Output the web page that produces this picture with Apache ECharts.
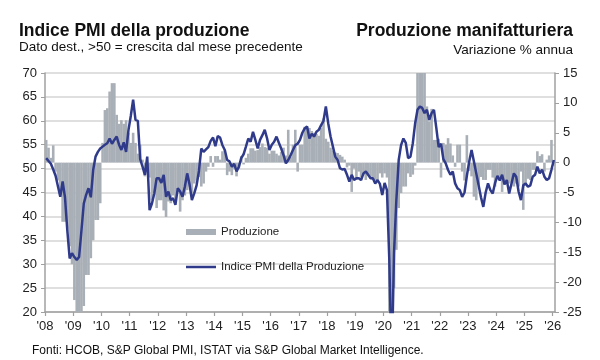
<!DOCTYPE html>
<html>
<head>
<meta charset="utf-8">
<script src="https://cdn.jsdelivr.net/npm/echarts@6/dist/echarts.min.js"></script>
<style>
html,body{margin:0;padding:0;background:#fff;}
#chart{width:600px;height:360px;}
</style>
</head>
<body>
<div id="chart"></div>
<script>
// Year tick labels (one per January, 2008 .. 2026)
const yearTicks = ["'08","'09","'10","'11","'12","'13","'14","'15","'16","'17","'18","'19","'20","'21","'22","'23","'24","'25","'26"];

// PMI output index (left axis), monthly Jan 2008 .. Jan 2026
const pmi2008 = [52.2,51.6,51.0,49.8,48.5,46.3,44.1,47.3,44.0,37.0,31.2,32.3];
const pmi2009 = [31.5,30.9,31.5,37.0,42.7,44.5,45.9,44.0,49.7,52.5,53.5,54.2];
const pmi2010 = [54.6,55.0,55.3,56.3,55.2,56.0,56.7,55.0,53.9,55.5,53.5,58.0];
const pmi2011 = [61.0,64.4,60.2,60.0,52.0,50.4,48.7,52.5,41.3,42.7,44.8,48.0];
const pmi2012 = [48.0,47.0,48.7,44.1,45.2,43.4,43.8,42.4,45.9,45.2,44.1,46.2];
const pmi2013 = [49.0,46.7,43.4,44.8,46.5,49.5,54.2,53.5,54.0,54.5,55.8,56.5];
const pmi2014 = [54.7,56.8,56.5,54.9,53.9,51.8,51.5,50.4,51.0,49.4,50.4,52.2];
const pmi2015 = [53.0,54.6,56.3,55.6,57.7,56.0,54.2,56.0,57.0,58.1,56.3,53.9];
const pmi2016 = [55.0,55.6,56.7,55.4,54.2,52.8,51.1,51.8,52.8,53.9,54.9,55.2];
const pmi2017 = [56.0,57.5,58.4,58.8,56.3,57.3,56.7,57.7,58.1,59.1,60.0,63.0];
const pmi2018 = [59.5,56.7,54.6,52.5,51.8,50.1,49.8,49.9,48.7,47.3,48.7,47.6];
const pmi2019 = [48.0,48.0,47.6,49.0,49.4,48.7,48.0,48.0,46.9,47.6,46.8,44.5];
const pmi2020 = [47.0,45.5,30.9,8.0,32.3,43.4,51.8,54.9,56.3,55.4,52.2,52.5];
const pmi2021 = [55.3,59.5,62.3,63.0,62.7,61.6,62.3,60.2,61.6,62.3,58.5,54.5];
const pmi2022 = [55.2,52.0,51.1,49.7,48.7,49.4,46.9,45.9,45.5,44.1,45.0,48.5];
const pmi2023 = [51.5,53.9,51.5,49.0,46.5,44.0,42.0,45.0,46.9,45.5,44.8,47.0];
const pmi2024 = [48.5,47.5,48.7,46.7,47.6,44.8,46.9,49.0,48.3,45.2,43.4,46.5];
const pmi2025 = [46.9,46.2,46.5,48.3,48.7,50.4,49.0,49.8,48.3,47.6,48.0,49.8];
const pmi2026 = [51.8];

// Manufacturing production, % y/y (right axis), monthly Jan 2008 .. Jan 2026
const prod2008 = [3.8,2.5,0.8,2.9,-1.5,-3.0,-5.0,-9.9,-9.9,-11.0,-14.0,-17.0];
const prod2009 = [-23.0,-25.5,-26.0,-25.5,-24.0,-18.8,-18.8,-16.0,-13.0,-9.6,-9.6,-6.8];
const prod2010 = [3.3,8.8,9.1,11.9,13.3,13.3,8.0,6.5,7.1,6.5,7.1,5.0];
const prod2011 = [3.3,5.0,3.3,1.5,3.0,0.5,-2.3,-1.0,-2.5,-6.3,-5.0,-7.6];
const prod2012 = [-6.3,-6.3,-8.0,-9.1,-6.5,-6.8,-5.5,-6.0,-4.6,-8.2,-6.3,-5.5];
const prod2013 = [-4.6,-4.0,-5.5,-3.5,-3.0,-2.4,-4.0,-3.5,-1.5,-0.7,1.1,-0.7];
const prod2014 = [1.1,1.1,0.5,1.9,2.1,-2.1,-1.5,-2.1,-1.0,-2.3,-1.0,1.1];
const prod2015 = [-0.3,0.8,1.5,2.4,2.4,2.0,2.1,2.6,3.2,2.6,2.5,1.5];
const prod2016 = [2.0,2.0,1.5,1.2,1.8,2.5,1.2,5.5,1.0,3.0,5.5,-1.5];
const prod2017 = [3.0,3.0,6.0,6.0,5.8,5.3,5.0,4.8,4.5,5.8,7.4,4.0];
const prod2018 = [3.5,2.5,2.0,1.7,1.6,1.3,1.0,0.5,-0.8,-0.5,-4.9,-1.0];
const prod2019 = [-2.9,-1.5,-2.5,-2.1,-2.9,-2.1,-2.4,-2.9,-3.0,-2.9,-1.8,-2.5];
const prod2020 = [-1.8,-2.5,-28.0,-42.0,-21.0,-14.6,-7.6,-5.1,-4.0,-4.0,-1.8,-2.4];
const prod2021 = [-2.0,-0.5,37.0,79.0,21.0,16.0,9.4,6.9,9.0,3.8,3.8,4.0];
const prod2022 = [-2.5,3.3,3.0,4.1,3.2,1.2,-0.7,3.0,3.0,-1.5,-3.0,4.6];
const prod2023 = [-1.4,-2.3,-5.7,-6.3,-3.7,-2.4,-2.9,-2.9,-1.2,-1.2,-2.5,-4.0];
const prod2024 = [-2.4,-2.4,-4.9,-3.5,-3.3,-3.5,-3.3,-4.0,-3.5,-4.0,-1.5,-7.9];
const prod2025 = [-3.5,-2.7,-2.9,-1.2,-1.2,1.9,1.1,1.4,-1.5,0.5,1.2,3.8];
const prod2026 = [-0.5];

const pmiValues = [].concat(pmi2008,pmi2009,pmi2010,pmi2011,pmi2012,pmi2013,pmi2014,pmi2015,pmi2016,pmi2017,pmi2018,pmi2019,pmi2020,pmi2021,pmi2022,pmi2023,pmi2024,pmi2025,pmi2026);
const prodValues = [].concat(prod2008,prod2009,prod2010,prod2011,prod2012,prod2013,prod2014,prod2015,prod2016,prod2017,prod2018,prod2019,prod2020,prod2021,prod2022,prod2023,prod2024,prod2025,prod2026);

// month index -> centre of that month's slot on the x value axis
const lineData = pmiValues.map((v, i) => [i + 0.5, v]);
const barData = prodValues.map((v, i) => [i + 0.5, v]);
const nMonths = pmiValues.length;

const FONT = 'Liberation Sans, Arial, sans-serif';
const AXIS_GREY = '#a0a0a0';

const chart = echarts.init(document.getElementById('chart'), null, {renderer: 'canvas'});
chart.setOption({
  animation: false,
  backgroundColor: '#ffffff',
  textStyle: {fontFamily: FONT},
  title: [
    {
      text: 'Indice PMI della produzione',
      subtext: 'Dato dest., >50 = crescita dal mese precedente',
      left: 19, top: 22, padding: 0, itemGap: 0,
      textStyle: {fontFamily: FONT, fontSize: 17.5, fontWeight: 'bold', color: '#111'},
      subtextStyle: {fontFamily: FONT, fontSize: 13.5, color: '#111'}
    },
    {
      text: 'Produzione manifatturiera',
      subtext: 'Variazione % annua',
      left: 573, top: 22, padding: 0, itemGap: 3, textAlign: 'right',
      textStyle: {fontFamily: FONT, fontSize: 17.5, fontWeight: 'bold', color: '#111'},
      subtextStyle: {fontFamily: FONT, fontSize: 13.5, color: '#111'}
    },
    {
      text: 'Fonti: HCOB, S&P Global PMI, ISTAT via S&P Global Market Intelligence.',
      left: 32, top: 345, padding: 0,
      textStyle: {fontFamily: FONT, fontSize: 12, fontWeight: 'normal', color: '#111'}
    }
  ],
  legend: [
    {
      data: [{name: 'Produzione', icon: 'rect'}],
      left: 186, top: 226, padding: 0,
      itemWidth: 30, itemHeight: 6,
      textStyle: {fontFamily: FONT, fontSize: 11.5, color: '#222'}
    },
    {
      data: [{name: 'Indice PMI della Produzione', icon: 'rect'}],
      left: 186, top: 261, padding: 0,
      itemWidth: 30, itemHeight: 2.5,
      textStyle: {fontFamily: FONT, fontSize: 11.5, color: '#222'}
    }
  ],
  grid: {left: 45, right: 45, top: 73, bottom: 48},
  xAxis: {
    type: 'value', min: 0, max: nMonths, interval: 12,
    axisLine: {onZero: false, lineStyle: {color: AXIS_GREY, width: 1.5}},
    axisTick: {show: true, length: 4, lineStyle: {color: AXIS_GREY, width: 1.2}},
    axisLabel: {
      fontFamily: FONT, fontSize: 13, color: '#222', margin: 8,
      showMaxLabel: false,
      formatter: function (v) { return (v % 12 === 0) ? (yearTicks[v / 12] || '') : ''; }
    },
    splitLine: {show: false}
  },
  yAxis: [
    {
      type: 'value', min: 20, max: 70, interval: 5, position: 'left',
      axisLine: {show: true, lineStyle: {color: AXIS_GREY, width: 1.5}},
      axisTick: {show: true, length: 4, lineStyle: {color: AXIS_GREY}},
      axisLabel: {fontFamily: FONT, fontSize: 13, color: '#222', margin: 8},
      splitLine: {show: true, lineStyle: {color: '#d4d4d4', width: 1.5}}
    },
    {
      type: 'value', min: -25, max: 15, interval: 5, position: 'right',
      axisLine: {show: true, lineStyle: {color: AXIS_GREY, width: 1.5}},
      axisTick: {show: true, length: 4, lineStyle: {color: AXIS_GREY}},
      axisLabel: {fontFamily: FONT, fontSize: 13, color: '#222', margin: 8},
      splitLine: {show: false}
    }
  ],
  series: [
    {
      name: 'Produzione', type: 'bar', yAxisIndex: 1,
      data: barData, barWidth: 2.6, clip: true,
      itemStyle: {color: '#a9afb6'}
    },
    {
      name: 'Indice PMI della Produzione', type: 'line', yAxisIndex: 0,
      data: lineData, showSymbol: false, clip: true,
      lineStyle: {color: '#2f3b8a', width: 2.5},
      itemStyle: {color: '#2f3b8a'}
    }
  ]
});
</script>
</body>
</html>
